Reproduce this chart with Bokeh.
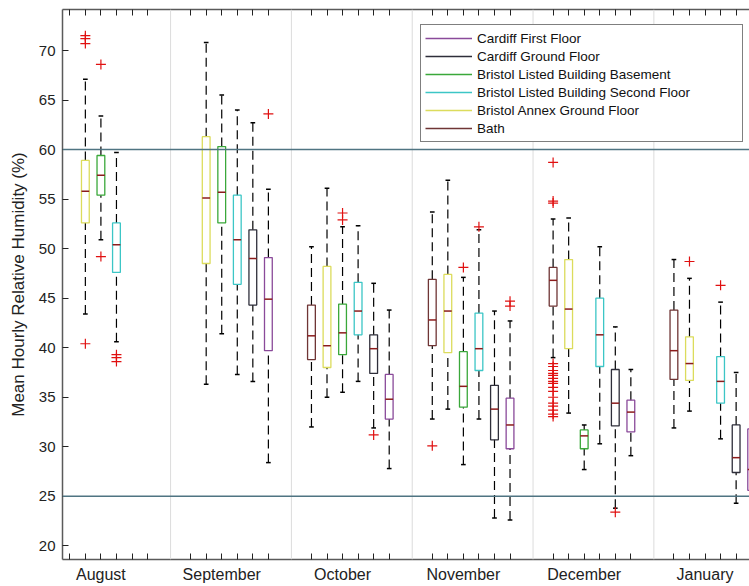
from bokeh.plotting import figure
from bokeh.models import (Range1d, FixedTicker, LinearAxis, Span, Legend, LegendItem,
                          ColumnDataSource, CustomLabelingPolicy)
from bokeh.embed import file_html
from bokeh.resources import INLINE

# ---------------- data ----------------
months = ["August", "September", "October", "November", "December", "January"]
sites = ["Bath", "Bristol Annex Ground Floor", "Bristol Listed Building Basement",
         "Bristol Listed Building Second Floor", "Cardiff Ground Floor", "Cardiff First Floor"]
legend_order = ["Cardiff First Floor", "Cardiff Ground Floor", "Bristol Listed Building Basement",
                "Bristol Listed Building Second Floor", "Bristol Annex Ground Floor", "Bath"]
site_colors = ["#6f3535", "#dcdc5c", "#3aa83a", "#3cc6c6", "#2e2e3a", "#8a4a9a"]

# [lower whisker, Q1, median, Q3, upper whisker] per month (None = no data)
bath_stats = [None, None,
              [32.0, 38.8, 41.2, 44.3, 50.2],
              [32.8, 40.2, 42.8, 46.9, 53.7],
              [39.0, 44.2, 46.8, 48.1, 53.0],
              [31.9, 36.8, 39.7, 43.8, 48.9]]
bath_outliers = [[], [], [], [30.1],
                 [58.7, 54.8, 54.6, 38.4, 38.1, 37.7, 37.4, 37.2, 36.9, 36.6, 36.4, 36.0,
                  35.6, 35.0, 34.4, 34.1, 33.7, 33.3, 33.05],
                 []]

annex_stats = [[43.4, 52.6, 55.8, 58.9, 67.1],
               [36.3, 48.5, 55.1, 61.3, 70.8],
               [35.0, 38.0, 40.2, 48.2, 56.1],
               [33.8, 39.5, 43.7, 47.4, 56.9],
               [33.4, 39.9, 43.9, 48.9, 53.1],
               [33.6, 36.7, 38.4, 41.1, 47.0]]
annex_outliers = [[71.5, 71.2, 70.7, 40.4], [], [], [], [], [48.7]]

basement_stats = [[50.9, 55.4, 57.4, 59.4, 63.4],
                  [41.4, 52.6, 55.7, 60.3, 65.5],
                  [35.5, 39.3, 41.5, 44.4, 52.2],
                  [28.2, 34.0, 36.1, 39.6, 47.1],
                  [27.7, 29.8, 31.1, 31.7, 32.2],
                  None]
basement_outliers = [[68.6, 49.2], [], [53.6, 52.9], [48.1], [], []]

second_stats = [[40.6, 47.6, 50.4, 52.6, 59.7],
                [37.3, 46.4, 50.9, 55.4, 64.0],
                [36.6, 41.3, 43.7, 46.6, 52.3],
                [32.8, 37.7, 39.9, 43.5, 51.9],
                [30.3, 38.1, 41.3, 45.0, 50.2],
                [30.8, 34.4, 36.6, 39.1, 44.6]]
second_outliers = [[39.3, 39.0, 38.6], [], [], [52.2], [], [46.3]]

cardiff_ground_stats = [None,
                        [36.6, 44.3, 49.0, 51.9, 62.7],
                        [31.9, 37.4, 39.9, 41.3, 46.5],
                        [22.8, 30.7, 33.8, 36.2, 43.7],
                        [23.8, 32.1, 34.4, 37.8, 42.1],
                        [24.3, 27.4, 28.9, 32.2, 37.5]]
cardiff_ground_outliers = [[], [], [31.2], [], [23.4], []]

cardiff_first_stats = [None,
                       [28.4, 39.7, 44.9, 49.1, 56.0],
                       [27.8, 32.8, 34.8, 37.3, 43.8],
                       [22.6, 29.8, 32.2, 34.9, 42.7],
                       [29.1, 31.5, 33.5, 34.7, 37.8],
                       [21.1, 25.6, 27.7, 31.8, 35.4]]
cardiff_first_outliers = [[], [63.6], [], [44.7, 44.2], [], []]

thresholds = [25, 60]
y_ticks = [20, 25, 30, 35, 40, 45, 50, 55, 60, 65, 70]

all_stats = [bath_stats, annex_stats, basement_stats, second_stats,
             cardiff_ground_stats, cardiff_first_stats]
all_outliers = [bath_outliers, annex_outliers, basement_outliers, second_outliers,
                cardiff_ground_outliers, cardiff_first_outliers]

# ---------------- layout constants ----------------
MONTH_W = 7.77      # width of a month group in slot units
SEP_OFF = 1.29      # separator offset before first slot
BOX_HALF = 0.25
CAP_HALF = 0.15
LABEL_SLOT = 2

p = figure(width=749, height=586, output_backend="svg", toolbar_location=None,
           x_range=Range1d(-0.47, 43.71), y_range=Range1d(18.62, 74.14),
           min_border_left=62, min_border_right=0, min_border_top=9, min_border_bottom=27,
           x_axis_location=None, y_axis_location=None)
p.outline_line_color = None
p.grid.visible = False
p.background_fill_color = "white"
p.border_fill_color = "white"

# month separators
for m in range(1, len(months)):
    p.add_layout(Span(location=m * MONTH_W - SEP_OFF, dimension="height",
                      line_color="#dcdcdc", line_width=1))
# threshold lines
for t in thresholds:
    p.add_layout(Span(location=t, dimension="width", line_color="#4f7482", line_width=1.5))

legend_renderers = {}
for k, (name, col, stats, outs) in enumerate(zip(sites, site_colors, all_stats, all_outliers)):
    xs, lo, q1, med, q3, hi = [], [], [], [], [], []
    ox, oy = [], []
    for m, s in enumerate(stats):
        x = m * MONTH_W + k
        if s is not None:
            xs.append(x); lo.append(s[0]); q1.append(s[1]); med.append(s[2])
            q3.append(s[3]); hi.append(s[4])
        for o in outs[m]:
            ox.append(x); oy.append(o)
    src = ColumnDataSource(dict(x=xs, lo=lo, q1=q1, med=med, q3=q3, hi=hi,
                                xl=[v - BOX_HALF for v in xs], xr=[v + BOX_HALF for v in xs],
                                cl=[v - CAP_HALF for v in xs], cr=[v + CAP_HALF for v in xs]))
    # whiskers
    p.segment(x0="x", y0="q3", x1="x", y1="hi", source=src, line_color="black",
              line_width=1.2, line_dash="9 5")
    p.segment(x0="x", y0="lo", x1="x", y1="q1", source=src, line_color="black",
              line_width=1.2, line_dash="9 5")
    # caps
    p.segment(x0="cl", y0="hi", x1="cr", y1="hi", source=src, line_color="black", line_width=1.5)
    p.segment(x0="cl", y0="lo", x1="cr", y1="lo", source=src, line_color="black", line_width=1.5)
    # box
    p.quad(left="xl", right="xr", bottom="q1", top="q3", source=src, fill_color=None,
           line_color=col, line_width=1.3)
    # median
    p.segment(x0="xl", y0="med", x1="xr", y1="med", source=src, line_color="#8b1c1c",
              line_width=1.5)
    # outliers
    p.scatter(x=ox, y=oy, marker="cross", size=10, line_color="#e01010", line_width=1.2)
    # single-point line (draws nothing on the plot) used for the legend swatch
    legend_renderers[name] = p.line(x=xs[:1], y=med[:1], line_color=col, line_width=1.3)

# axes
x_ticks = [m * MONTH_W + k for m in range(len(months)) for k in range(len(sites))]
overrides = {}
for m in range(len(months)):
    for k in range(len(sites)):
        overrides[m * MONTH_W + k] = months[m] if k == LABEL_SLOT else ""

bottom_policy = CustomLabelingPolicy(code="""
for (const i of indices) {
    if (i % 6 != 2) indices.unset(i)
}
return indices
""")
top_policy = CustomLabelingPolicy(code="""
for (const i of indices) { indices.unset(i) }
return indices
""")

axis_color = "#5a5a5a"
xb = LinearAxis(ticker=FixedTicker(ticks=x_ticks), major_label_overrides=overrides,
                major_label_policy=bottom_policy)
xt = LinearAxis(ticker=FixedTicker(ticks=x_ticks), major_label_text_font_size="1px",
                major_label_standoff=0, major_label_policy=top_policy)
yl = LinearAxis(ticker=FixedTicker(ticks=y_ticks), axis_label="Mean Hourly Relative Humidity (%)")
for ax in (xb, xt, yl):
    ax.major_tick_in = 6
    ax.major_tick_out = 0
    ax.minor_tick_in = 0
    ax.minor_tick_out = 0
    ax.axis_line_color = axis_color
    ax.axis_line_width = 1.5
    ax.major_tick_line_color = "#222222"
    ax.major_tick_line_width = 1
    ax.major_label_text_color = "#222222"
    ax.major_label_text_font = "Liberation Sans"
xb.major_label_text_font_size = "16px"
xb.major_label_standoff = 6
yl.major_label_text_font_size = "15px"
yl.major_label_standoff = 7
yl.axis_label_text_font = "Liberation Sans"
yl.axis_label_text_font_size = "17px"
yl.axis_label_text_font_style = "normal"
yl.axis_label_text_color = "#222222"
yl.axis_label_standoff = 8
p.add_layout(xb, "below")
p.add_layout(xt, "above")
p.add_layout(yl, "left")

legend = Legend(items=[LegendItem(label=n, renderers=[legend_renderers[n]]) for n in legend_order],
                location=(358, 417), label_text_font="Liberation Sans",
                label_text_font_size="13.5px", label_text_color="#111111",
                label_height=18, glyph_height=18, glyph_width=47, spacing=0, padding=4,
                label_standoff=5, label_width=261, border_line_color="black",
                border_line_width=1, background_fill_color="white", background_fill_alpha=1,
                margin=0)
p.add_layout(legend)

open("out.html", "w").write(file_html(p, INLINE))
